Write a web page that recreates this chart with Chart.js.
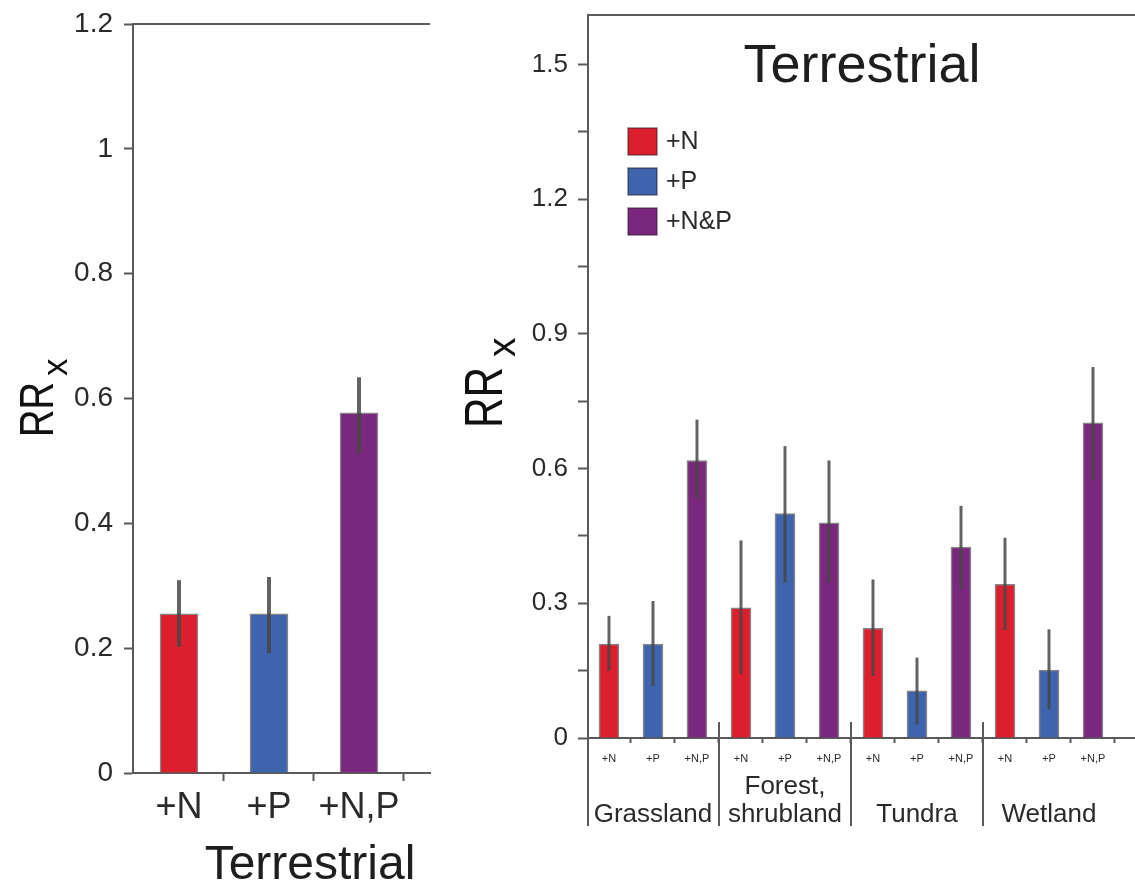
<!DOCTYPE html>
<html>
<head>
<meta charset="utf-8">
<script src="https://cdn.jsdelivr.net/npm/chart.js@4.4.1/dist/chart.umd.min.js"></script>
<style>
    html, body { margin: 0; padding: 0; background: #fff; }
    #wrap { position: relative; width: 1135px; height: 884px; overflow: hidden; }
    #leftBox { position: absolute; left: 0; top: 0; width: 440px; height: 884px; }
    #rightBox { position: absolute; left: 440px; top: 0; width: 695px; height: 884px; }
</style>
</head>
<body>
<div id="wrap">
    <div id="leftBox"><canvas id="leftChart"></canvas></div>
    <div id="rightBox"><canvas id="rightChart"></canvas></div>
</div>
<script>
// ---- data: left panel (all terrestrial) ----
const leftLabels = ['+N', '+P', '+N,P'];
const leftMeans = [0.255, 0.255, 0.577];
const leftErrLow = [0.202, 0.192, 0.512];
const leftErrHigh = [0.309, 0.314, 0.634];
const leftTicks = [0, 0.2, 0.4, 0.6, 0.8, 1, 1.2];

// ---- data: right panel (by ecosystem) ----
const groups = ['Grassland', 'Forest,\nshrubland', 'Tundra', 'Wetland'];
const treatments = ['+N', '+P', '+N,P'];
const legendLabels = ['+N', '+P', '+N&P'];
const nMeans = [0.209, 0.290, 0.244, 0.342];
const nLow = [0.149, 0.142, 0.138, 0.240];
const nHigh = [0.272, 0.440, 0.353, 0.446];
const pMeans = [0.209, 0.500, 0.105, 0.151];
const pLow = [0.116, 0.346, 0.030, 0.064];
const pHigh = [0.305, 0.650, 0.179, 0.242];
const npMeans = [0.618, 0.479, 0.425, 0.702];
const npLow = [0.532, 0.346, 0.331, 0.574];
const npHigh = [0.709, 0.618, 0.517, 0.826];
const rightTicks = [0, 0.15, 0.3, 0.45, 0.6, 0.75, 0.9, 1.05, 1.2, 1.35, 1.5];

const FONT = "'Liberation Sans', Arial, Helvetica, sans-serif";
const AXIS = '#5a5a5a';
const TEXT = '#2a2a2a';
const RED = '#dc1f2d';
const BLUE = '#3e64ae';
const PURPLE = '#79287d';
const EDGE = 'rgba(40,30,40,0.55)';

// vertical error bar through the middle of each bar
const errorBars = {
    id: 'errorBars',
    afterDatasetsDraw(chart, args, opts) {
        const ctx = chart.ctx;
        const y = chart.scales.y;
        chart.data.datasets.forEach((ds, i) => {
            chart.getDatasetMeta(i).data.forEach((bar, j) => {
                ctx.save();
                ctx.strokeStyle = opts.color;
                ctx.lineWidth = opts.width;
                ctx.beginPath();
                ctx.moveTo(bar.x, y.getPixelForValue(ds.errLow[j]));
                ctx.lineTo(bar.x, y.getPixelForValue(ds.errHigh[j]));
                ctx.stroke();
                ctx.restore();
            });
        });
    }
};

// "RR" with a subscript x, rotated
function drawRR(ctx, baseX, startY, size, rrLen, gap, drop) {
    ctx.save();
    ctx.translate(baseX, startY);
    ctx.rotate(-Math.PI / 2);
    ctx.fillStyle = '#111';
    ctx.textAlign = 'left';
    ctx.textBaseline = 'alphabetic';
    ctx.font = size + 'px ' + FONT;
    const w = ctx.measureText('RR').width;
    ctx.save();
    ctx.scale(rrLen / w, 1);
    ctx.fillText('RR', 0, 0);
    ctx.restore();
    ctx.font = Math.round(size * 0.72) + 'px ' + FONT;
    ctx.fillText('x', rrLen + gap, drop);
    ctx.restore();
}

function topLine(chart) {
    const { ctx, chartArea } = chart;
    ctx.save();
    ctx.strokeStyle = AXIS;
    ctx.lineWidth = 2;
    ctx.beginPath();
    ctx.moveTo(chartArea.left - 1, chartArea.top);
    ctx.lineTo(chartArea.right, chartArea.top);
    ctx.stroke();
    ctx.restore();
}

// keep the plot box where the layout padding puts it
function fixY(width) {
    return s => {
        s.width = width;
        s.paddingTop = 0;
        s.paddingBottom = 0;
    };
}
function fixX(height) {
    return s => {
        s.height = height;
        s.paddingLeft = 0;
        s.paddingRight = 0;
    };
}

const leftDecor = {
    id: 'leftDecor',
    afterDraw(chart) {
        const ctx = chart.ctx;
        topLine(chart);
        drawRR(ctx, 53, 437, 48, 55, 6, 14);
        ctx.save();
        ctx.fillStyle = '#1e1e1e';
        ctx.font = '48px ' + FONT;
        ctx.textAlign = 'center';
        ctx.textBaseline = 'alphabetic';
        ctx.fillText('Terrestrial', 310, 879);
        ctx.restore();
    }
};

const rightDecor = {
    id: 'rightDecor',
    afterDraw(chart) {
        const { ctx, chartArea } = chart;
        const x = chart.scales.x;
        topLine(chart);

        // y axis runs on below zero, plus group separators
        ctx.save();
        ctx.strokeStyle = AXIS;
        ctx.lineWidth = 2;
        ctx.beginPath();
        ctx.moveTo(chartArea.left, chartArea.bottom);
        ctx.lineTo(chartArea.left, 826);
        [2.5, 5.5, 8.5].forEach(v => {
            const px = Math.round(x.getPixelForValue(v));
            ctx.moveTo(px, chartArea.bottom - 16);
            ctx.lineTo(px, 826);
        });
        ctx.stroke();
        ctx.restore();

        // group names
        ctx.save();
        ctx.fillStyle = TEXT;
        ctx.font = '26px ' + FONT;
        ctx.textAlign = 'center';
        ctx.textBaseline = 'middle';
        groups.forEach((g, i) => {
            const cx = x.getPixelForValue(i * 3 + 1);
            const lines = g.split('\n');
            if (lines.length === 2) {
                ctx.fillText(lines[0], cx, 787);
                ctx.fillText(lines[1], cx, 815);
            } else {
                ctx.fillText(g, cx, 815);
            }
        });
        ctx.restore();

        // title
        ctx.save();
        ctx.fillStyle = '#1e1e1e';
        ctx.font = '54px ' + FONT;
        ctx.textAlign = 'center';
        ctx.textBaseline = 'alphabetic';
        ctx.fillText('Terrestrial', 422, 82);
        ctx.restore();

        // legend
        ctx.save();
        chart.data.datasets.forEach((ds, i) => {
            const sy = 128 + i * 40;
            ctx.fillStyle = ds.backgroundColor;
            ctx.fillRect(188, sy, 29, 27);
            ctx.strokeStyle = EDGE;
            ctx.lineWidth = 1.5;
            ctx.strokeRect(188, sy, 29, 27);
            ctx.fillStyle = TEXT;
            ctx.font = '25px ' + FONT;
            ctx.textAlign = 'left';
            ctx.textBaseline = 'middle';
            ctx.fillText(legendLabels[i], 226, sy + 14);
        });
        ctx.restore();

        drawRR(ctx, 62, 428, 54, 61, 10, 13);
    }
};

// left panel
new Chart(document.getElementById('leftChart'), {
    type: 'bar',
    data: {
        datasets: [{
            data: leftMeans.map((v, i) => ({ x: i + 1, y: v })),
            errLow: leftErrLow,
            errHigh: leftErrHigh,
            backgroundColor: [RED, BLUE, PURPLE],
            borderColor: EDGE,
            borderWidth: 1.5,
            barThickness: 38
        }]
    },
    options: {
        responsive: true,
        maintainAspectRatio: false,
        animation: false,
        layout: { padding: { top: 24, right: 10, left: 0, bottom: 0 } },
        plugins: {
            legend: { display: false },
            tooltip: { enabled: false },
            errorBars: { color: 'rgba(70,70,70,0.85)', width: 4 }
        },
        scales: {
            x: {
                type: 'linear',
                min: 0.489,
                max: 3.789,
                offset: false,
                afterBuildTicks: s => { s.ticks = [1, 1.5, 2, 2.5, 3, 3.5].map(v => ({ value: v })); },
                afterFit: fixX(111),
                grid: {
                    offset: false,
                    drawOnChartArea: false,
                    tickLength: 8,
                    tickWidth: 2,
                    tickColor: c => Number.isInteger(c.tick.value) ? 'rgba(0,0,0,0)' : AXIS
                },
                border: { color: AXIS, width: 2 },
                ticks: {
                    autoSkip: false,
                    maxRotation: 0,
                    padding: 5,
                    color: TEXT,
                    font: { family: FONT, size: 36 },
                    callback: v => Number.isInteger(v) ? leftLabels[v - 1] : ''
                }
            },
            y: {
                min: 0,
                max: 1.2,
                afterBuildTicks: s => { s.ticks = leftTicks.map(v => ({ value: v })); },
                afterFit: fixY(133),
                grid: { drawOnChartArea: false, tickLength: 9, tickWidth: 2, tickColor: AXIS },
                border: { color: AXIS, width: 2 },
                ticks: {
                    padding: 11,
                    color: TEXT,
                    font: { family: FONT, size: 28 },
                    callback: v => String(Number(v.toFixed(2)))
                }
            }
        }
    },
    plugins: [errorBars, leftDecor]
});

// right panel
const seriesOf = (means, offset) => means.map((v, i) => ({ x: i * 3 + offset, y: v }));

new Chart(document.getElementById('rightChart'), {
    type: 'bar',
    data: {
        datasets: [
            { label: legendLabels[0], data: seriesOf(nMeans, 0), errLow: nLow, errHigh: nHigh, backgroundColor: RED },
            { label: legendLabels[1], data: seriesOf(pMeans, 1), errLow: pLow, errHigh: pHigh, backgroundColor: BLUE },
            { label: legendLabels[2], data: seriesOf(npMeans, 2), errLow: npLow, errHigh: npHigh, backgroundColor: PURPLE }
        ]
    },
    options: {
        responsive: true,
        maintainAspectRatio: false,
        animation: false,
        datasets: { bar: { grouped: false, barThickness: 20, borderColor: EDGE, borderWidth: 1.5 } },
        layout: { padding: { top: 15, right: 0, left: 0, bottom: 0 } },
        plugins: {
            legend: { display: false },
            tooltip: { enabled: false },
            errorBars: { color: 'rgba(70,70,70,0.85)', width: 3 }
        },
        scales: {
            x: {
                type: 'linear',
                min: -0.477,
                max: 11.955,
                offset: false,
                afterBuildTicks: s => {
                    const t = [];
                    for (let i = 0; i < 12; i++) t.push({ value: i }, { value: i + 0.5 });
                    s.ticks = t;
                },
                afterFit: fixX(146),
                grid: {
                    offset: false,
                    drawOnChartArea: false,
                    tickLength: 5,
                    tickWidth: 2,
                    tickColor: c => Number.isInteger(c.tick.value) ? 'rgba(0,0,0,0)' : AXIS
                },
                border: { color: AXIS, width: 2 },
                ticks: {
                    autoSkip: false,
                    maxRotation: 0,
                    padding: 9,
                    color: TEXT,
                    font: { family: FONT, size: 11 },
                    callback: v => Number.isInteger(v) ? treatments[v % 3] : ''
                }
            },
            y: {
                min: 0,
                max: 1.61,
                afterBuildTicks: s => { s.ticks = rightTicks.map(v => ({ value: v })); },
                afterFit: fixY(148),
                grid: { drawOnChartArea: false, tickLength: 10, tickWidth: 2, tickColor: AXIS },
                border: { color: AXIS, width: 2 },
                ticks: {
                    padding: 10,
                    color: TEXT,
                    font: { family: FONT, size: 26 },
                    callback: v => {
                        const k = v / 0.3;
                        return Math.abs(k - Math.round(k)) < 1e-6 ? String(Number(v.toFixed(2))) : '';
                    }
                }
            }
        }
    },
    plugins: [errorBars, rightDecor]
});
</script>
</body>
</html>
